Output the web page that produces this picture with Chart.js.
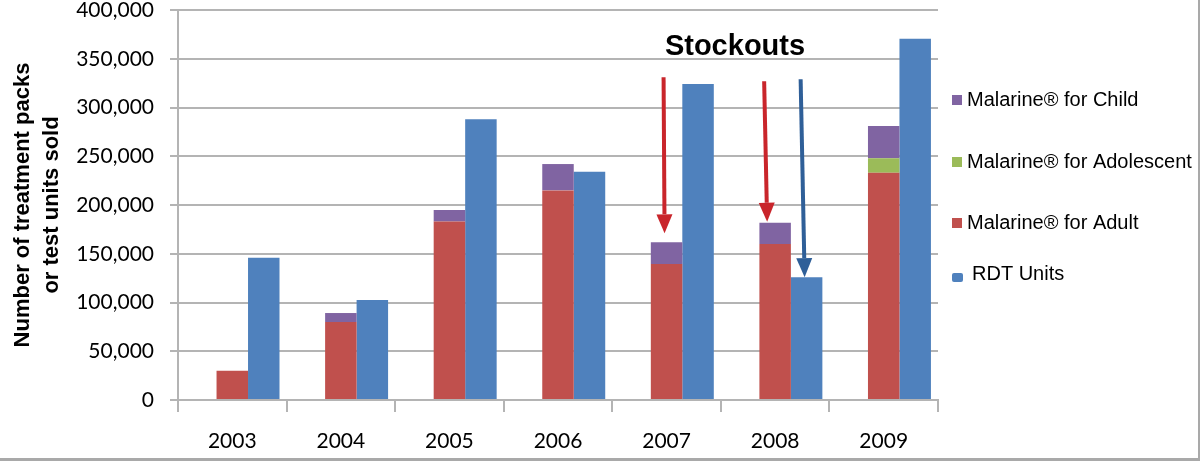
<!DOCTYPE html>
<html>
<head>
<meta charset="utf-8">
<title>Malarine and RDT sales</title>
<script src="https://cdn.jsdelivr.net/npm/chart.js@4.4.1/dist/chart.umd.min.js"></script>
<style>
    html, body { margin: 0; padding: 0; background: #fff; }
    #frame { position: relative; width: 1200px; height: 461px; }
    #frame::after {
        content: ''; position: absolute; left: 0; top: 0; right: 0; bottom: 0;
        border-right: 2px solid #a9a9a9; border-bottom: 3px solid #a9a9a9;
        pointer-events: none;
    }
</style>
</head>
<body>
<div id="frame"><canvas id="salesChart"></canvas></div>
<script>
// DATA
const years = ['2003', '2004', '2005', '2006', '2007', '2008', '2009'];

const adultPacks      = [30000, 80000, 183000, 215000, 139500, 160000, 233000];
const adolescentPacks = [null, null, null, null, null, null, 15000];
const childPacks      = [null, 9200, 12000, 27000, 22200, 21800, 33000];
const rdtUnits        = [146000, 102500, 288000, 234000, 324000, 126000, 370500];

const yTicks = [0, 50000, 100000, 150000, 200000, 250000, 300000, 350000, 400000];

// which bars the stockout arrows point at
const stockouts = [
    { year: '2007', series: 'Malarine® for Child', from: 331000, dxTop: -3, dxTip: -2, gap: 9, color: '#c9252b' },
    { year: '2008', series: 'Malarine® for Child', from: 327000, dxTop: -11, dxTip: -8, gap: 1, color: '#c9252b' },
    { year: '2008', series: 'RDT Units', from: 329000, dxTop: -6, dxTip: -2, gap: 0, color: '#2f5f98' }
];

const BLUE = '#4f81bd';
const RED = '#c0504d';
const GREEN = '#9bbb59';
const PURPLE = '#8064a2';
const GRID = '#b4b4b4';

// legend drawn by hand so it sits like the original
const legendItems = [
    { label: 'Malarine® for Child', y: 100 },
    { label: 'Malarine® for Adolescent', y: 162 },
    { label: 'Malarine® for Adult', y: 223 },
    { label: 'RDT Units', y: 274 }
];

const sideLegend = {
    id: 'sideLegend',
    afterDraw(chart) {
        const ctx = chart.ctx;
        ctx.save();
        ctx.font = '20px "Liberation Sans", Arial, sans-serif';
        ctx.textBaseline = 'middle';
        legendItems.forEach(item => {
            const ds = chart.data.datasets.find(d => d.label === item.label);
            ctx.fillStyle = ds.backgroundColor;
            if (item.label === 'RDT Units') {
                ctx.beginPath();
                ctx.roundRect(952, item.y - 1, 11, 9, 2);
                ctx.fill();
                ctx.fillStyle = '#000';
                ctx.fillText(item.label, 972, item.y);
            } else {
                ctx.fillRect(952, item.y - 5, 10, 10);
                ctx.fillStyle = '#000';
                ctx.fillText(item.label, 967, item.y);
            }
        });
        ctx.restore();
    }
};

const stockoutNotes = {
    id: 'stockoutNotes',
    afterDatasetsDraw(chart) {
        const ctx = chart.ctx;
        const yScale = chart.scales.y;
        ctx.save();

        ctx.font = 'bold 29px "Liberation Sans", Arial, sans-serif';
        ctx.textAlign = 'center';
        ctx.textBaseline = 'alphabetic';
        ctx.fillStyle = '#000';
        ctx.fillText('Stockouts', 735, 55);

        stockouts.forEach(a => {
            const dsIndex = chart.data.datasets.findIndex(d => d.label === a.series);
            const bar = chart.getDatasetMeta(dsIndex).data[years.indexOf(a.year)];
            const x0 = bar.x + a.dxTop;
            const y0 = yScale.getPixelForValue(a.from);
            const x1 = bar.x + a.dxTip;
            const y1 = bar.y - a.gap;

            const ang = Math.atan2(y1 - y0, x1 - x0);
            const headLen = 19, headHalf = 8;
            const bx = x1 - headLen * Math.cos(ang);
            const by = y1 - headLen * Math.sin(ang);

            ctx.strokeStyle = a.color;
            ctx.fillStyle = a.color;
            ctx.lineWidth = 4;
            ctx.beginPath();
            ctx.moveTo(x0, y0);
            ctx.lineTo(bx, by);
            ctx.stroke();

            ctx.beginPath();
            ctx.moveTo(x1, y1);
            ctx.lineTo(bx + headHalf * Math.sin(ang), by - headHalf * Math.cos(ang));
            ctx.lineTo(bx - headHalf * Math.sin(ang), by + headHalf * Math.cos(ang));
            ctx.closePath();
            ctx.fill();
        });
        ctx.restore();
    }
};

const ctx = document.getElementById('salesChart');

new Chart(ctx, {
    type: 'bar',

    data: {
        labels: years,

        datasets: [
            // empty slot on the left of every year, like the original layout
            { label: '', data: [], stack: 'spacer', backgroundColor: 'rgba(0,0,0,0)' },
            { label: 'Malarine® for Adult', data: adultPacks, stack: 'malarine', backgroundColor: RED },
            { label: 'Malarine® for Adolescent', data: adolescentPacks, stack: 'malarine', backgroundColor: GREEN },
            { label: 'Malarine® for Child', data: childPacks, stack: 'malarine', backgroundColor: PURPLE },
            { label: 'RDT Units', data: rdtUnits, stack: 'rdt', backgroundColor: BLUE }
        ]
    },

    options: {
        responsive: true,
        maintainAspectRatio: false,
        animation: false,

        categoryPercentage: 0.87,
        barPercentage: 1.0,
        borderWidth: 0,

        layout: {
            padding: { top: 10, right: 262, bottom: -10, left: 0 }
        },

        plugins: {
            legend: { display: false },
            tooltip: { enabled: false }
        },

        scales: {
            x: {
                stacked: true,
                grid: {
                    offset: true,
                    drawOnChartArea: false,
                    tickLength: 12,
                    color: GRID,
                    lineWidth: 2
                },
                border: { color: GRID, width: 2 },
                ticks: {
                    padding: 19,
                    color: '#000',
                    font: { family: 'Lato', size: 21, lineHeight: 1 }
                }
            },

            y: {
                stacked: true,
                min: 0,
                max: 400000,
                afterFit(scale) {
                    scale.width = 178;
                    // the top label may run off the canvas, as in the original
                    scale.paddingTop = 0;
                    scale.paddingBottom = 0;
                },
                afterBuildTicks(scale) {
                    scale.ticks = yTicks.map(v => ({ value: v }));
                },
                grid: {
                    color: GRID,
                    lineWidth: 2,
                    tickLength: 8
                },
                border: { color: GRID, width: 2 },
                ticks: {
                    padding: 16,
                    color: '#000',
                    font: { family: 'Lato', size: 21, lineHeight: 1 },
                    callback: v => v.toLocaleString('en-US')
                },
                title: {
                    display: true,
                    text: ['Number of treatment packs', 'or test units sold'],
                    color: '#000',
                    padding: { top: 9, bottom: 0 },
                    font: { family: 'Liberation Sans', size: 22, weight: 'bold', lineHeight: 1.3 }
                }
            }
        }
    },

    plugins: [sideLegend, stockoutNotes]
});
</script>
</body>
</html>
